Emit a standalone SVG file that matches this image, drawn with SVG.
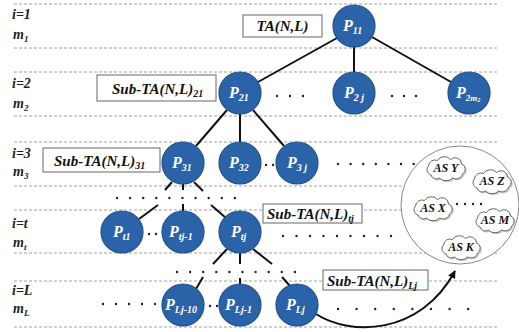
<svg xmlns="http://www.w3.org/2000/svg" width="519" height="332" viewBox="0 0 519 332">
<style>
.dash{stroke:#a0a0a0;stroke-width:1;stroke-dasharray:3,2;fill:none}
.edge{stroke:#111;stroke-width:2;fill:none}
.dots{stroke:#222;stroke-width:2.4;stroke-linecap:round;fill:none}
.node{fill:#2b63a9;stroke:#1e4f8c;stroke-width:1.2}
.nt{font-family:"Liberation Serif",serif;font-style:italic;font-weight:bold;fill:#fff;font-size:16px}
.lbl{font-family:"Liberation Serif",serif;font-style:italic;font-weight:bold;fill:#111;font-size:15px}
.side{font-family:"Liberation Serif",serif;font-style:italic;font-weight:bold;fill:#222;font-size:14px}
.box{fill:#fff;stroke:#666;stroke-width:1}
.cloud{fill:#fff;stroke:#555;stroke-width:0.9}
.ct{font-family:"Liberation Serif",serif;font-style:italic;font-weight:bold;fill:#111;font-size:12px}
</style>
<defs>
<marker id="arr" viewBox="0 0 10 10" refX="9" refY="5" markerWidth="8" markerHeight="8" orient="auto" markerUnits="userSpaceOnUse">
<path d="M0,0 L10,5 L0,10 z" fill="#111"/>
</marker>
<path id="cl" d="M-15,7 a5.5,5.5 0 0 1 -2.5,-9 a6.5,6.5 0 0 1 9,-5.5 a7.5,6.5 0 0 1 13,-1 a6.5,6.5 0 0 1 11,4.5 a5.5,5.5 0 0 1 1,10 a6.5,5.5 0 0 1 -10,4 a7.5,5.5 0 0 1 -13,0 a5.5,5.5 0 0 1 -8.5,-3 z"/>
</defs>
<rect width="519" height="332" fill="#fff"/>
<g id="gridlines">
<line class="dash" x1="14" y1="4" x2="498" y2="4"/>
<line class="dash" x1="14" y1="48" x2="498" y2="48"/>
<line class="dash" x1="14" y1="72" x2="498" y2="72"/>
<line class="dash" x1="14" y1="116" x2="498" y2="116"/>
<line class="dash" x1="14" y1="142" x2="498" y2="142"/>
<line class="dash" x1="14" y1="186" x2="498" y2="186"/>
<line class="dash" x1="14" y1="210" x2="498" y2="210"/>
<line class="dash" x1="14" y1="253" x2="498" y2="253"/>
<line class="dash" x1="14" y1="281" x2="498" y2="281"/>
<line class="dash" x1="14" y1="327" x2="498" y2="327"/>
</g>
<g id="levels">
<text class="side" x="12" y="19">i=1</text>
<text class="side" x="13" y="39">m<tspan font-size="9" dy="3">1</tspan></text>
<text class="side" x="12" y="88">i=2</text>
<text class="side" x="13" y="108">m<tspan font-size="9" dy="3">2</tspan></text>
<text class="side" x="12" y="158">i=3</text>
<text class="side" x="13" y="176">m<tspan font-size="9" dy="3">3</tspan></text>
<text class="side" x="12" y="228">i=t</text>
<text class="side" x="13" y="247">m<tspan font-size="9" dy="3">t</tspan></text>
<text class="side" x="12" y="295">i=L</text>
<text class="side" x="13" y="313">m<tspan font-size="9" dy="3">L</tspan></text>
</g>
<g id="connectors">
<line class="edge" x1="337" y1="38" x2="258" y2="82"/>
<line class="edge" x1="354" y1="47" x2="354" y2="72"/>
<line class="edge" x1="372" y1="37" x2="451" y2="82"/>
<line class="edge" x1="227" y1="110" x2="196" y2="146"/>
<line class="edge" x1="240" y1="114" x2="240" y2="142"/>
<line class="edge" x1="253" y1="110" x2="284" y2="146"/>
<line class="edge" x1="172" y1="182" x2="165" y2="190"/>
<line class="edge" x1="183" y1="184" x2="183" y2="190"/>
<line class="edge" x1="194" y1="182" x2="203" y2="191"/>
<line class="edge" x1="158" y1="205" x2="139" y2="219"/>
<line class="edge" x1="183" y1="204" x2="183" y2="211"/>
<line class="edge" x1="211" y1="205" x2="226" y2="218"/>
<line class="edge" x1="227" y1="249" x2="213" y2="264"/>
<line class="edge" x1="240" y1="253" x2="240" y2="264"/>
<line class="edge" x1="253" y1="249" x2="272" y2="264"/>
<line class="edge" x1="203" y1="277" x2="196" y2="289"/>
<line class="edge" x1="240" y1="278" x2="240" y2="284"/>
<line class="edge" x1="282" y1="277" x2="290" y2="286"/>
<path class="edge" d="M316,314 C350,336 420,336 455,271" marker-end="url(#arr)"/>
</g>
<g id="ellipses">
<path class="dots" d="M277,96 h0 M290,96 h0 M303,96 h0"/>
<path class="dots" d="M392,96 h0 M404,96 h0 M416,96 h0"/>
<path class="dots" d="M266,165 h0 M273,165 h0"/>
<path class="dots" stroke-dasharray="0,12.6" d="M338,164 H414"/>
<path class="dots" stroke-dasharray="0,13.1" d="M117,198 H248"/>
<path class="dots" d="M149,234 h0 M156,234 h0"/>
<path class="dots" stroke-dasharray="0,13.5" d="M283,236 H392"/>
<path class="dots" stroke-dasharray="0,13.1" d="M177,272 H308"/>
<path class="dots" stroke-dasharray="0,13" d="M103,304 H156"/>
<path class="dots" d="M210,306 h0 M217,306 h0"/>
<path class="dots" stroke-dasharray="0,18.6" d="M338,309 H469"/>
</g>
<g id="TA">
<rect class="box" x="243" y="15" width="79" height="22"/>
<text class="lbl" x="282.5" y="31" text-anchor="middle">TA(N,L)</text>
</g>
<g id="SubTA21">
<rect class="box" x="97" y="75" width="119" height="26"/>
<text class="lbl" x="112" y="94">Sub-TA(N,L)<tspan font-size="10" dy="3">21</tspan></text>
</g>
<g id="SubTA31">
<rect class="box" x="43" y="148" width="117" height="24"/>
<text class="lbl" x="54" y="166">Sub-TA(N,L)<tspan font-size="10" dy="3">31</tspan></text>
</g>
<g id="SubTAtj">
<rect class="box" x="263" y="204" width="99" height="19"/>
<text class="lbl" x="267" y="219">Sub-TA(N,L)<tspan font-size="10" dy="3">tj</tspan></text>
</g>
<g id="SubTALj">
<rect class="box" x="323" y="270" width="105" height="20"/>
<text class="lbl" x="327" y="286">Sub-TA(N,L)<tspan font-size="10" dy="3">Lj</tspan></text>
</g>
<g id="P11"><circle class="node" cx="354" cy="26" r="21"/><text class="nt" x="343" y="31">P<tspan font-size="10" dy="3">11</tspan></text></g>
<g id="P21"><circle class="node" cx="240" cy="93" r="21"/><text class="nt" x="229" y="98">P<tspan font-size="10" dy="3">21</tspan></text></g>
<g id="P2j"><circle class="node" cx="354" cy="93" r="21"/><text class="nt" x="344" y="98">P<tspan font-size="10" dy="3">2 j</tspan></text></g>
<g id="P2m2"><circle class="node" cx="469" cy="93" r="21"/><text class="nt" x="456" y="98">P<tspan font-size="9" dy="3">2m</tspan><tspan font-size="6" dy="1">2</tspan></text></g>
<g id="P31"><circle class="node" cx="183" cy="163" r="21"/><text class="nt" x="172" y="168">P<tspan font-size="10" dy="3">31</tspan></text></g>
<g id="P32"><circle class="node" cx="240" cy="163" r="21"/><text class="nt" x="229" y="168">P<tspan font-size="10" dy="3">32</tspan></text></g>
<g id="P3j"><circle class="node" cx="297" cy="163" r="21"/><text class="nt" x="287" y="168">P<tspan font-size="10" dy="3">3 j</tspan></text></g>
<g id="Pt1"><circle class="node" cx="122" cy="232" r="21"/><text class="nt" x="113" y="237">P<tspan font-size="10" dy="3">t1</tspan></text></g>
<g id="Ptj-1"><circle class="node" cx="183" cy="232" r="21"/><text class="nt" x="169" y="237">P<tspan font-size="10" dy="3">tj-1</tspan></text></g>
<g id="Ptj"><circle class="node" cx="240" cy="232" r="21"/><text class="nt" x="231" y="237">P<tspan font-size="10" dy="3">tj</tspan></text></g>
<g id="PLj-10"><circle class="node" cx="183" cy="305" r="21"/><text class="nt" x="165" y="310">P<tspan font-size="10" dy="3">Lj-10</tspan></text></g>
<g id="PLj-1"><circle class="node" cx="240" cy="305" r="21"/><text class="nt" x="225" y="310">P<tspan font-size="10" dy="3">Lj-1</tspan></text></g>
<g id="PLj"><circle class="node" cx="297" cy="305" r="21"/><text class="nt" x="286" y="310">P<tspan font-size="10" dy="3">Lj</tspan></text></g>
<g id="ASgroup">
<circle cx="460" cy="205" r="59" fill="#fff" stroke="#888" stroke-width="1"/>
<g id="ASY"><use href="#cl" x="446" y="168" fill="#ccc" transform="translate(1.5,1.5)"/><use href="#cl" class="cloud" x="446" y="168"/><text class="ct" x="446" y="172" text-anchor="middle">AS Y</text></g>
<g id="ASZ"><use href="#cl" x="492" y="181" fill="#ccc" transform="translate(1.5,1.5)"/><use href="#cl" class="cloud" x="492" y="181"/><text class="ct" x="492" y="185" text-anchor="middle">AS Z</text></g>
<g id="ASX"><use href="#cl" x="433" y="208" fill="#ccc" transform="translate(1.5,1.5)"/><use href="#cl" class="cloud" x="433" y="208"/><text class="ct" x="433" y="212" text-anchor="middle">AS X</text></g>
<g id="ASM"><use href="#cl" x="495" y="220" fill="#ccc" transform="translate(1.5,1.5)"/><use href="#cl" class="cloud" x="495" y="220"/><text class="ct" x="495" y="224" text-anchor="middle">AS M</text></g>
<g id="ASK"><use href="#cl" x="461" y="247" fill="#ccc" transform="translate(1.5,1.5)"/><use href="#cl" class="cloud" x="461" y="247"/><text class="ct" x="461" y="251" text-anchor="middle">AS K</text></g>
<path class="dots" stroke-width="2" d="M457,204 h0 M465,204 h0 M473,204 h0 M481,204 h0"/>
</g>
</svg>
